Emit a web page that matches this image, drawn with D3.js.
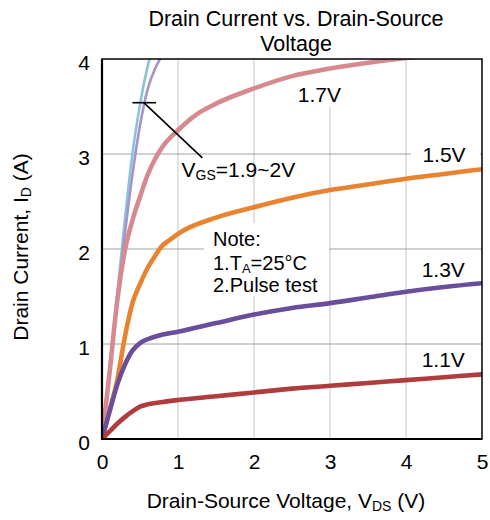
<!DOCTYPE html>
<html>
<head>
<meta charset="utf-8">
<script src="https://cdn.jsdelivr.net/npm/d3@7"></script>
<style>
  html, body { margin: 0; padding: 0; background: #fff; }
  svg { display: block; font-family: Arial, "Liberation Sans", sans-serif; }
</style>
</head>
<body>
<svg id="chart" width="490" height="520"></svg>
<script>
// ---- data ----
const xTicks = [0, 1, 2, 3, 4, 5];
const yTicks = [0, 1, 2, 3, 4];

const vds11 = [0, 0.1, 0.2, 0.3, 0.4, 0.5, 0.6, 0.8, 1, 1.5, 2, 2.5, 3, 3.5, 4, 4.5, 5];
const id11  = [0, 0.08, 0.16, 0.23, 0.29, 0.34, 0.365, 0.39, 0.41, 0.45, 0.49, 0.53, 0.56, 0.59, 0.62, 0.65, 0.68];

const vds13 = [0, 0.1, 0.2, 0.3, 0.4, 0.5, 0.6, 0.8, 1, 1.5, 2, 2.5, 3, 3.5, 4, 4.5, 5];
const id13  = [0, 0.29, 0.57, 0.78, 0.93, 1.01, 1.05, 1.1, 1.13, 1.22, 1.31, 1.38, 1.43, 1.49, 1.55, 1.6, 1.64];

const vds15 = [0, 0.1, 0.2, 0.3, 0.4, 0.5, 0.6, 0.7, 0.8, 0.9, 1, 1.5, 2, 2.5, 3, 3.5, 4, 4.5, 5];
const id15  = [0, 0.3, 0.62, 1.07, 1.43, 1.63, 1.8, 1.93, 2.04, 2.1, 2.16, 2.33, 2.44, 2.54, 2.62, 2.68, 2.74, 2.79, 2.84];

const vds17 = [0, 0.1, 0.2, 0.3, 0.4, 0.5, 0.6, 0.7, 0.8, 1, 1.25, 1.5, 2, 2.5, 3, 3.5, 4, 4.5];
const id17  = [0, 0.7, 1.45, 1.98, 2.3, 2.55, 2.78, 2.95, 3.08, 3.25, 3.42, 3.53, 3.69, 3.82, 3.9, 3.96, 4.01, 4.05];

const vds19 = [0, 0.1, 0.2, 0.3, 0.4, 0.5, 0.6, 0.7, 0.8];
const id19  = [0, 0.72, 1.45, 2.15, 2.78, 3.3, 3.68, 3.9, 4.05];

const vds20 = [0, 0.1, 0.2, 0.3, 0.4, 0.5, 0.6, 0.7];
const id20  = [0, 0.76, 1.52, 2.3, 3.0, 3.52, 3.92, 4.2];

const seriesNames = ["2V", "1.9V", "1.7V", "1.5V", "1.3V", "1.1V"];
const seriesX = [vds20, vds19, vds17, vds15, vds13, vds11];
const seriesY = [id20, id19, id17, id15, id13, id11];
const seriesColors = ["#88c4da", "#a593c9", "#d68a90", "#e8832f", "#6b4e9b", "#b03c3e"];
const seriesWidths = [2.6, 2.6, 4.6, 4.6, 4.6, 4.6];

// curve labels (data coords): [text, vds, id]
const curveLabels = [["1.7V", 2.86, 3.55], ["1.5V", 4.5, 2.92], ["1.3V", 4.49, 1.71], ["1.1V", 4.49, 0.76]];

// ---- layout ----
const W = 490, H = 520;
const margin = { left: 102, top: 59, right: 8, bottom: 81 };
const svg = d3.select("#chart");
const x = d3.scaleLinear().domain([0, 5]).range([margin.left, W - margin.right]);
const y = d3.scaleLinear().domain([0, 4]).range([H - margin.bottom, margin.top]);

svg.append("defs").append("clipPath").attr("id", "plotclip")
  .append("rect").attr("x", x(0)).attr("y", y(4)).attr("width", x(5) - x(0)).attr("height", y(0) - y(4));

// grid
const grid = svg.append("g");
grid.selectAll(".vg").data(xTicks.slice(1, -1)).join("line")
  .attr("x1", d => x(d)).attr("x2", d => x(d)).attr("y1", y(0)).attr("y2", y(4))
  .attr("stroke", "#c6c6c6").attr("stroke-width", 1);
grid.selectAll(".hg").data(yTicks.slice(1, -1)).join("line")
  .attr("x1", x(0)).attr("x2", x(5)).attr("y1", d => y(d)).attr("y2", d => y(d))
  .attr("stroke", "#a2a2a2").attr("stroke-width", 1);

// white boxes behind labels (hide grid)
const boxes = svg.append("g");
boxes.append("rect").attr("x", 292).attr("y", y(4) + 1).attr("width", 54).attr("height", 47).attr("fill", "#fff");
boxes.append("rect").attr("x", 411).attr("y", 140).attr("width", 69).attr("height", 27).attr("fill", "#fff");
boxes.append("rect").attr("x", 204).attr("y", 223).attr("width", 125).attr("height", 73).attr("fill", "#fff");

// curves
const line = d3.line().x(d => x(d[0])).y(d => y(d[1])).curve(d3.curveMonotoneX);
const curves = svg.append("g").attr("clip-path", "url(#plotclip)");
seriesNames.forEach((name, i) => {
  const pts = seriesX[i].map((v, j) => [v, seriesY[i][j]]);
  curves.append("path").datum(pts).attr("d", line)
    .attr("fill", "none").attr("stroke", seriesColors[i])
    .attr("stroke-width", seriesWidths[i]).attr("stroke-linejoin", "round").attr("stroke-linecap", "round");
});

// frame
svg.append("rect").attr("x", x(0)).attr("y", y(4)).attr("width", x(5) - x(0)).attr("height", y(0) - y(4))
  .attr("fill", "none").attr("stroke", "#000").attr("stroke-width", 1.5);
svg.append("line").attr("x1", x(0)).attr("x2", x(0)).attr("y1", y(4)).attr("y2", y(0) + 1).attr("stroke", "#000").attr("stroke-width", 2.2);
svg.append("line").attr("x1", x(0) - 1).attr("x2", x(5)).attr("y1", y(0)).attr("y2", y(0)).attr("stroke", "#000").attr("stroke-width", 2.2);

// axes
const xAxis = svg.append("g").attr("transform", `translate(0,${y(0)})`)
  .call(d3.axisBottom(x).tickValues(xTicks).tickFormat(d3.format("d")).tickSize(0).tickPadding(15));
xAxis.select(".domain").remove();
xAxis.selectAll("text").attr("font-size", 21).attr("font-family", "Arial, 'Liberation Sans', sans-serif").attr("fill", "#000");

const yAxis = svg.append("g").attr("transform", `translate(${x(0)},0)`)
  .call(d3.axisLeft(y).tickValues(yTicks).tickFormat(d3.format("d")).tickSize(0).tickPadding(12));
yAxis.select(".domain").remove();
yAxis.selectAll("text").attr("font-size", 21).attr("dy", "0.5em").attr("font-family", "Arial, 'Liberation Sans', sans-serif").attr("fill", "#000");

// title
const title = svg.append("text").attr("text-anchor", "middle").attr("font-size", 21.5).attr("fill", "#000");
title.append("tspan").attr("x", 296).attr("y", 26).text("Drain Current vs. Drain-Source");
title.append("tspan").attr("x", 296).attr("y", 51).text("Voltage");

// axis titles
const xt = svg.append("text").attr("x", 286).attr("y", 508).attr("text-anchor", "middle").attr("font-size", 21).attr("fill", "#000");
xt.append("tspan").text("Drain-Source Voltage, V");
xt.append("tspan").attr("font-size", 14).attr("dy", 3).text("DS");
xt.append("tspan").attr("dy", -3).text(" (V)");

const yt = svg.append("text").attr("transform", "translate(28,247) rotate(-90)").attr("text-anchor", "middle").attr("font-size", 21).attr("fill", "#000");
yt.append("tspan").text("Drain Current, I");
yt.append("tspan").attr("font-size", 14).attr("dy", 3).text("D");
yt.append("tspan").attr("dy", -3).text(" (A)");

// curve labels
svg.selectAll(".clab").data(curveLabels).join("text")
  .attr("x", d => x(d[1])).attr("y", d => y(d[2])).attr("text-anchor", "middle")
  .attr("font-size", 21).attr("fill", "#000").text(d => d[0]);

// VGS annotation
svg.append("line").attr("x1", x(0.4)).attr("x2", x(0.71)).attr("y1", y(3.54)).attr("y2", y(3.54)).attr("stroke", "#000").attr("stroke-width", 1.6);
svg.append("line").attr("x1", x(0.55)).attr("x2", x(1.32)).attr("y1", y(3.54)).attr("y2", y(2.96)).attr("stroke", "#000").attr("stroke-width", 1.6);
const vg = svg.append("text").attr("x", 181.5).attr("y", 177).attr("font-size", 21).attr("fill", "#000");
vg.append("tspan").text("V");
vg.append("tspan").attr("font-size", 14).attr("dy", 3).text("GS");
vg.append("tspan").attr("dy", -3).text("=1.9~2V");

// note
const note = svg.append("text").attr("font-size", 20).attr("fill", "#000");
note.append("tspan").attr("x", 213).attr("y", 246).text("Note:");
const n1 = note.append("tspan").attr("x", 213).attr("y", 270).text("1.T");
note.append("tspan").attr("font-size", 13).attr("dy", 3).text("A");
note.append("tspan").attr("dy", -3).text("=25°C");
note.append("tspan").attr("x", 213).attr("y", 292).text("2.Pulse test");
</script>
</body>
</html>
